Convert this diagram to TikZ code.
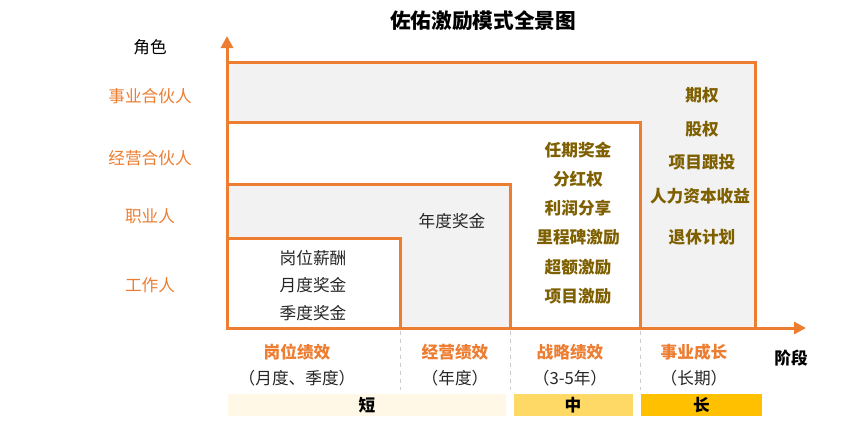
\documentclass[tikz,border=0pt]{standalone}
\usepackage{fontspec}
\setmainfont{Noto Sans CJK SC}
\usetikzlibrary{arrows.meta}
\definecolor{trait}{RGB}{237,125,49}
\definecolor{fondgris}{RGB}{242,242,242}
\definecolor{or}{RGB}{127,96,0}
\definecolor{court}{RGB}{255,248,231}
\definecolor{moyen}{RGB}{255,217,102}
\definecolor{long}{RGB}{255,192,0}
\tikzset{
	texte/.style	= {font=\fontsize{12.5}{15}\selectfont, text=black!85, inner sep=0pt},
	role/.style		= {texte, text=trait},
	outil/.style	= {texte, text=or, font=\fontsize{12.5}{15}\selectfont\bfseries},
	etape/.style	= {texte, text=trait, font=\fontsize{12.5}{15}\selectfont\bfseries},
	barre/.style	= {draw=none, minimum height=16.5pt, inner sep=0pt, font=\fontsize{12.5}{15}\selectfont\bfseries},
	cadre/.style	= {draw=trait, line width=2.25pt}
}
\begin{document}
\begin{tikzpicture}[x=0.75pt, y=-0.75pt]
				% Cadre
				\useasboundingbox		(0,0)		rectangle	(862,426)	;
				% Rectangles
				\filldraw	[cadre, fill=fondgris]	(227,62)	rectangle	(755,328)	;	% Long
				\filldraw	[cadre, fill=white]		(227,122)	rectangle	(640,328)	;	% Strat
				\filldraw	[cadre, fill=fondgris]	(227,184)	rectangle	(510,328)	;	% Annee
				\filldraw	[cadre, fill=white]		(227,238)	rectangle	(400,328)	;	% Poste
				% Axes
				\coordinate	(O)		at	(227,328)	;
				\coordinate	(Ytop)	at	(227,36)	;
				\coordinate	(Xend)	at	(806,328)	;
				\draw [trait, line width=2.25pt, -{Triangle[width=9pt,length=9pt]}]	(O) -- (Ytop);
				\draw [trait, line width=2.25pt, -{Triangle[width=9pt,length=9pt]}]	(O) -- (Xend);
				% Separations
				\foreach \x in {400, 510, 640}
					\draw [gray!40, dashed, line width=0.5pt]	(\x,331) -- (\x,390);
				% Titre
				\node	[texte, text=black, font=\fontsize{15.5}{18}\selectfont\bfseries]	(titre)	at	(483,21)	{佐佑激励模式全景图};
				% Roles
				\node	[texte, text=black]	(role)		at	(150,47)	{角色};
				\node	[role]				(associe)	at	(150,96)	{事业合伙人};
				\node	[role]				(gerant)	at	(150,158)	{经营合伙人};
				\node	[role]				(cadrepro)	at	(150,216)	{职业人};
				\node	[role]				(employe)	at	(150,285)	{工作人};
				% Court terme
				\node	[texte]	(salaire)	at	(313,258)	{岗位薪酬};
				\node	[texte]	(mois)		at	(313,285)	{月度奖金};
				\node	[texte]	(trim)		at	(313,313)	{季度奖金};
				\node	[texte]	(annee)		at	(452,221)	{年度奖金};
				% Moyen terme
				\node	[outil]	(mandat)	at	(578,150)	{任期奖金};
				\node	[outil]	(dividende)	at	(578,179)	{分红权};
				\node	[outil]	(profit)	at	(578,208)	{利润分享};
				\node	[outil]	(jalon)		at	(578,237)	{里程碑激励};
				\node	[outil]	(surplus)	at	(578,267)	{超额激励};
				\node	[outil]	(projet)	at	(578,296)	{项目激励};
				% Long terme
				\node	[outil]	(option)	at	(702,95)	{期权};
				\node	[outil]	(action)	at	(702,129)	{股权};
				\node	[outil]	(suivi)		at	(702,162)	{项目跟投};
				\node	[outil]	(capital)	at	(700,196)	{人力资本收益};
				\node	[outil]	(retraite)	at	(702,237)	{退休计划};
				% Etapes
				\node	[etape]	(e1)	at	(297,352)	{岗位绩效};
				\node	[texte]	(p1)	at	(297,378)	{（月度、季度）};
				\node	[etape]	(e2)	at	(455,352)	{经营绩效};
				\node	[texte]	(p2)	at	(455,378)	{（年度）};
				\node	[etape]	(e3)	at	(570,352)	{战略绩效};
				\node	[texte]	(p3)	at	(570,378)	{（3-5年）};
				\node	[etape]	(e4)	at	(694,352)	{事业成长};
				\node	[texte]	(p4)	at	(694,378)	{（长期）};
				\node	[texte, text=black, font=\fontsize{12.5}{15}\selectfont\bfseries]	(phase)	at	(791,358)	{阶段};
				% Durees
				\node	[barre, fill=court, minimum width=208.5pt]	(b1)	at	(367,405)	{短};
				\node	[barre, fill=moyen, minimum width=89.25pt]	(b2)	at	(573,405)	{中};
				\node	[barre, fill=long, minimum width=90.75pt]	(b3)	at	(701.5,405)	{长};
\end{tikzpicture}
\end{document}
